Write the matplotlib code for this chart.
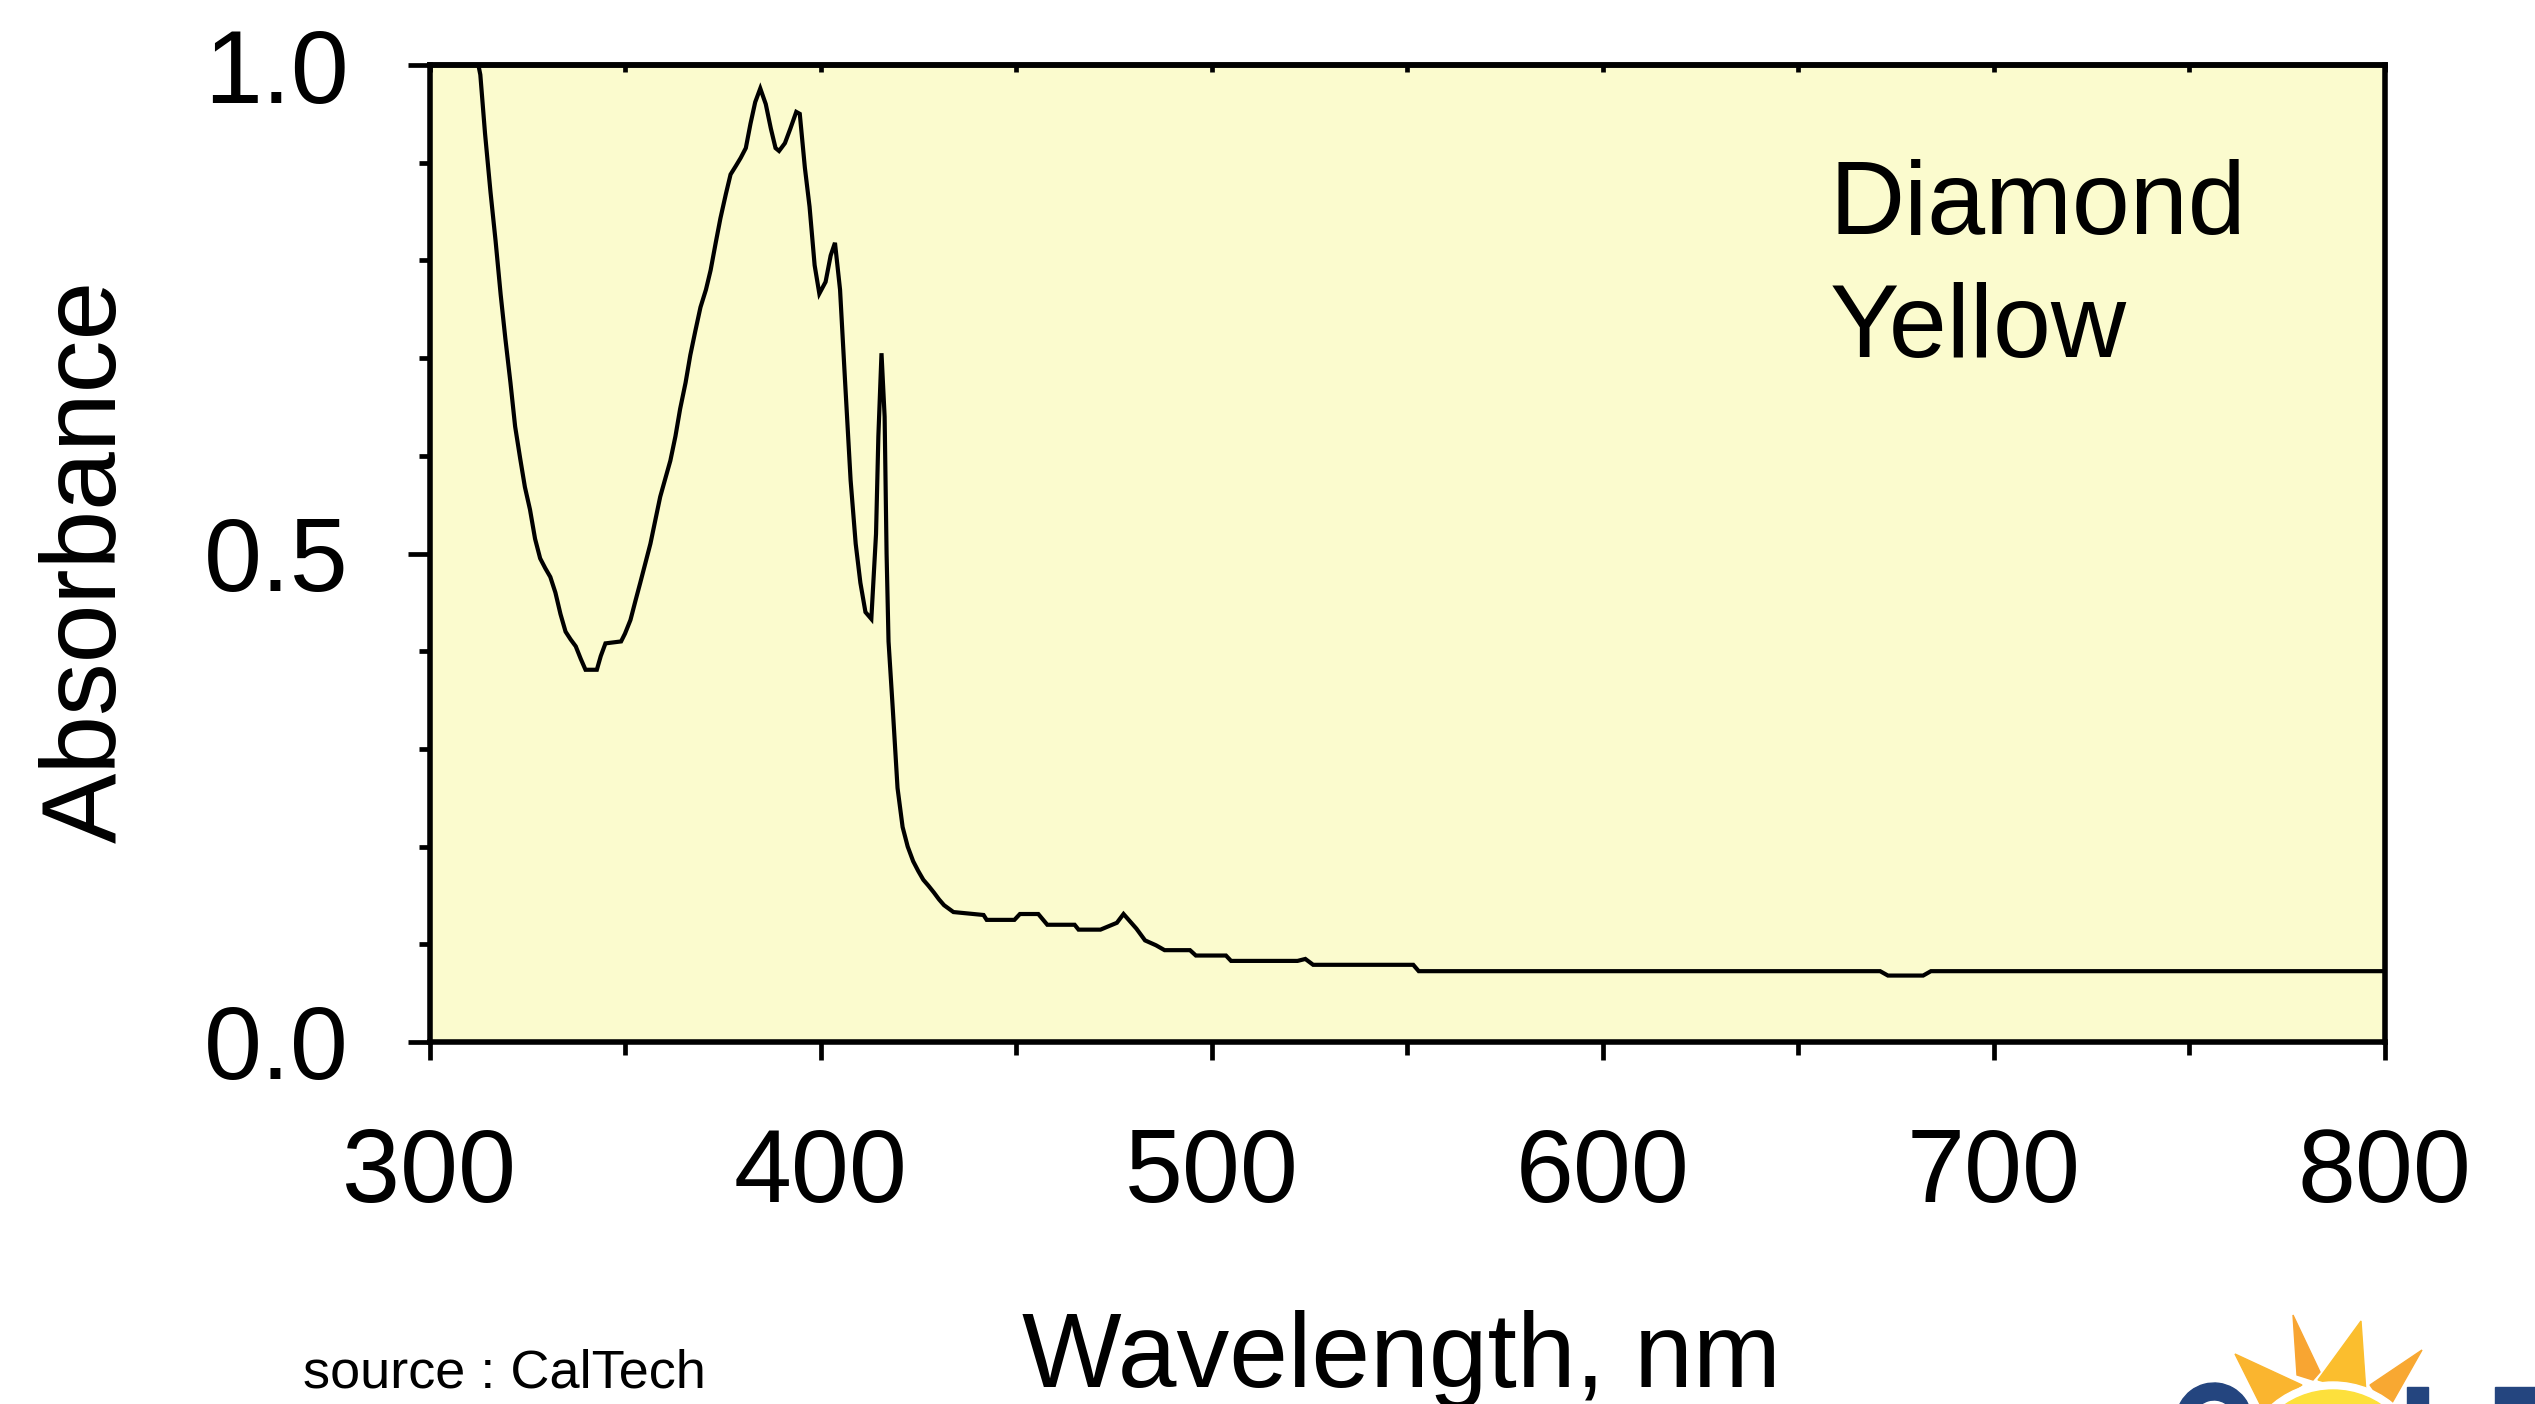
import matplotlib
matplotlib.use("Agg")
import matplotlib.pyplot as plt
from matplotlib.ticker import MultipleLocator, FormatStrFormatter
from matplotlib.patches import Polygon, Circle, Rectangle, Wedge

plt.rcParams["font.family"] = ["Liberation Sans", "DejaVu Sans"]

# Diamond (yellow) absorbance spectrum
wavelength = [312.5, 313.0, 314.2, 315.6, 316.9, 318.2, 319.4, 320.7, 321.9, 323.2,
              324.4, 325.7, 327.0, 328.3, 329.6, 330.9, 332.2, 333.5, 334.8, 336.1,
              337.4, 338.7, 339.9, 342.8, 343.8, 345.0, 349.0, 350.0, 351.4, 352.7,
              353.9, 355.2, 356.5, 357.8, 359.0, 360.4, 361.6, 362.9, 364.1, 365.5,
              366.7, 368.0, 369.3, 370.7, 371.9, 373.2, 374.4, 375.8, 377.0, 378.4,
              379.6, 380.9, 382.1, 383.3, 384.6, 386.0, 387.3, 388.5, 389.4, 390.9,
              392.3, 393.8, 394.7, 396.0, 397.2, 398.5, 399.7, 401.3, 402.6, 403.7,
              405.0, 406.3, 407.7, 409.0, 410.2, 411.5, 413.0, 414.2, 414.8, 415.6,
              416.4, 416.9, 417.4, 418.5, 419.7, 421.0, 422.3, 423.7, 425.0, 426.3,
              427.6, 429.0, 430.3, 431.6, 434.0, 441.7, 442.5, 449.6, 451.0, 455.7,
              458.0, 465.0, 466.0, 471.6, 475.8, 477.5, 480.8, 483.0, 485.8, 488.0,
              494.5, 496.0, 503.7, 505.0, 522.0, 524.0, 526.0, 551.6, 553.0, 671.0,
              673.0, 682.0, 684.0, 800.0]
absorbance = [1.000, 0.990, 0.930, 0.870, 0.820, 0.765, 0.720, 0.675, 0.630, 0.597,
              0.568, 0.545, 0.515, 0.495, 0.485, 0.476, 0.460, 0.438, 0.420, 0.412,
              0.405, 0.392, 0.381, 0.381, 0.395, 0.408, 0.410, 0.418, 0.432, 0.452,
              0.470, 0.490, 0.510, 0.535, 0.558, 0.578, 0.595, 0.620, 0.648, 0.675,
              0.703, 0.728, 0.752, 0.770, 0.790, 0.818, 0.843, 0.868, 0.888, 0.897,
              0.905, 0.915, 0.940, 0.962, 0.976, 0.960, 0.935, 0.915, 0.912, 0.920,
              0.935, 0.952, 0.950, 0.895, 0.855, 0.795, 0.766, 0.778, 0.805, 0.818,
              0.770, 0.675, 0.575, 0.510, 0.470, 0.440, 0.433, 0.520, 0.620, 0.705,
              0.640, 0.500, 0.410, 0.340, 0.260, 0.220, 0.200, 0.185, 0.175, 0.166,
              0.160, 0.153, 0.146, 0.140, 0.133, 0.130, 0.125, 0.125, 0.131, 0.131,
              0.120, 0.120, 0.115, 0.115, 0.122, 0.131, 0.116, 0.104, 0.099, 0.094,
              0.094, 0.0885, 0.0885, 0.083, 0.083, 0.085, 0.079, 0.079, 0.0725, 0.0725,
              0.068, 0.068, 0.0725, 0.0725]

W, H = 2535, 1404
fig = plt.figure(figsize=(W / 100, H / 100), dpi=100)
ax = fig.add_axes([429.5 / W, 1 - 1042 / H, 1955 / W, 977 / H])
ax.set_facecolor("#FBFBCE")

ax.plot(wavelength, absorbance, color="black", lw=3.0, solid_joinstyle="miter")
ax.set_xlim(300, 800)
ax.set_ylim(0, 1)

ax.xaxis.set_major_locator(MultipleLocator(100))
ax.xaxis.set_minor_locator(MultipleLocator(50))
ax.yaxis.set_major_locator(MultipleLocator(0.5))
ax.yaxis.set_minor_locator(MultipleLocator(0.1))
ax.yaxis.set_major_formatter(FormatStrFormatter("%.1f"))

ax.tick_params(axis="x", which="major", direction="out", length=13, width=3.4,
               labelsize=75, pad=48)
ax.tick_params(axis="x", which="minor", direction="out", length=9.4, width=3.4)
ax.tick_params(axis="y", which="major", direction="out", length=16, width=3.4,
               labelsize=75, pad=42)
ax.tick_params(axis="y", which="minor", direction="out", length=8, width=3.4)
for s in ax.spines.values():
    s.set_linewidth(4.0)

# small inward ticks along the top edge
top = ax.secondary_xaxis("top")
top.xaxis.set_major_locator(MultipleLocator(50))
top.tick_params(direction="in", length=5, width=3.4, labeltop=False)
top.spines["top"].set_linewidth(4.0)

ax.text(0.716, 0.827, "Diamond", transform=ax.transAxes, fontsize=75, va="baseline")
ax.text(0.716, 0.701, "Yellow", transform=ax.transAxes, fontsize=75, va="baseline")

fig.text(116 / W, 1 - 561 / H, "Absorbance", rotation=90, rotation_mode="anchor",
         ha="center", va="baseline", fontsize=76)
fig.text(1401.5 / W, 1 - 1387 / H, "Wavelength, nm", ha="center", va="baseline",
         fontsize=76)
fig.text(303 / W, 1 - 1387 / H, "source : CalTech", ha="left", va="baseline",
         fontsize=39)

# logo peeking in at the bottom right corner (pixel coordinates)
lg = fig.add_axes([0, 0, 1, 1], zorder=5)
lg.set_xlim(0, W)
lg.set_ylim(H, 0)
lg.axis("off")
blue = "#24457F"
lg.add_patch(Wedge((2214, 1421), 38, 165, 345, width=17, color=blue))
lg.add_patch(Rectangle((2407, 1387), 21, 30, color=blue))
lg.add_patch(Rectangle((2495, 1387), 45, 30, color=blue))
lg.add_patch(Polygon([(2235, 1354), (2302, 1385), (2263, 1410)], color="#FAB52F"))
lg.add_patch(Polygon([(2293, 1315), (2320, 1372), (2313, 1380), (2297, 1375)],
                     color="#F8A532"))
lg.add_patch(Polygon([(2361, 1321), (2366, 1393), (2318, 1380)], color="#FBBE2E"))
lg.add_patch(Polygon([(2422, 1350), (2370, 1385), (2388, 1410)], color="#F8A832"))
lg.add_patch(Circle((2333, 1476), 94, color="white"))
lg.add_patch(Circle((2333, 1476), 86, color="#FDE03C"))

fig.savefig("out.png", dpi=100)
